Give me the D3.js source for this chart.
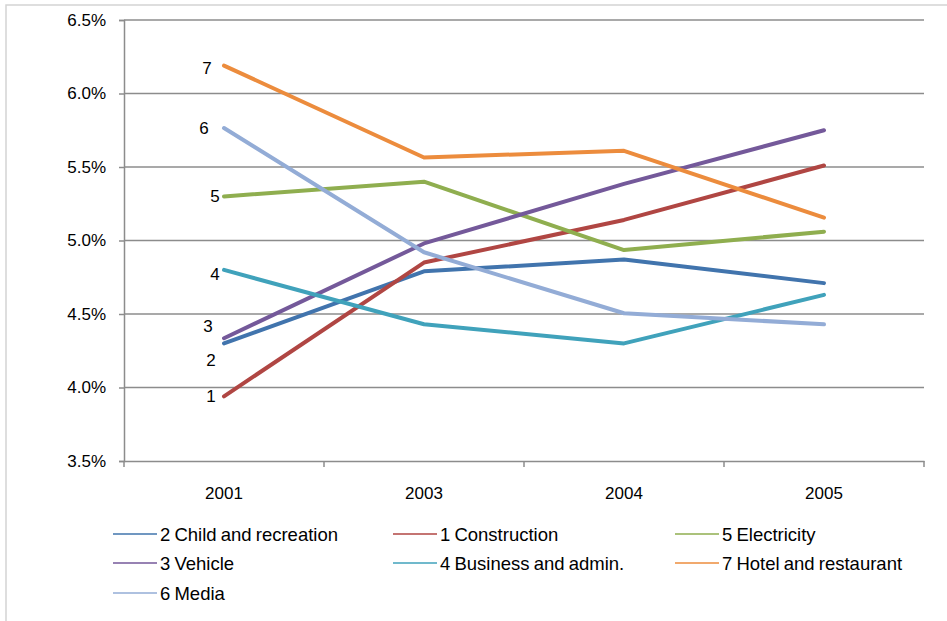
<!DOCTYPE html>
<html>
<head>
<meta charset="utf-8">
<script src="https://cdn.jsdelivr.net/npm/d3@7"></script>
<style>
  html, body { margin: 0; padding: 0; background: #fff; }
  svg { display: block; font-family: "Liberation Sans", Arial, sans-serif; }
</style>
</head>
<body>
<svg id="chart" width="947" height="621"></svg>
<script>
// ---- data ----
const years = ["2001", "2003", "2004", "2005"];
const seriesNames = ["2 Child and recreation", "1 Construction", "5 Electricity", "3 Vehicle", "4 Business and admin.", "7 Hotel and restaurant", "6 Media"];
const seriesCodes = ["2", "1", "5", "3", "4", "7", "6"];
const childRecreation = [4.30, 4.79, 4.87, 4.71];
const construction    = [3.94, 4.85, 5.14, 5.51];
const electricity     = [5.30, 5.40, 4.935, 5.06];
const vehicle         = [4.335, 4.98, 5.385, 5.75];
const businessAdmin   = [4.80, 4.43, 4.30, 4.63];
const hotelRestaurant = [6.19, 5.565, 5.61, 5.155];
const media           = [5.765, 4.92, 4.505, 4.43];
const yTicks = [3.5, 4.0, 4.5, 5.0, 5.5, 6.0, 6.5];

const seriesValues = [childRecreation, construction, electricity, vehicle, businessAdmin, hotelRestaurant, media];
const colors = ["#4174ad", "#b04643", "#8fae4f", "#74599a", "#40a2bb", "#ec8c3d", "#93acd6"];
// label offsets (px) relative to the first point of each series
const labelOffsets = [[-13, 17], [-13, 0], [-9, 0], [-16, -12], [-9, 5], [-17, 3], [-20, 0]];

const svg = d3.select("#chart");

// outer chart border
svg.append("rect").attr("x", 6).attr("y", 5).attr("width", 960).attr("height", 640)
  .attr("fill", "none").attr("stroke", "#d4d4d4").attr("stroke-width", 1.5);

const x = d3.scaleBand().domain(years).range([124, 924]).paddingInner(0).paddingOuter(0);
const y = d3.scaleLinear().domain([3.5, 6.5]).range([461, 20]);
const cx = d => x(d) + x.bandwidth() / 2;

// gridlines
svg.append("g").selectAll("line").data(yTicks.filter(t => t > 3.5)).join("line")
  .attr("x1", 124).attr("x2", 924)
  .attr("y1", d => y(d)).attr("y2", d => y(d))
  .attr("stroke", "#8c8c8c").attr("stroke-width", 1.5);

// y axis
const yAxis = d3.axisLeft(y).tickValues(yTicks).tickSize(5).tickPadding(13)
  .tickFormat(d => d.toFixed(1) + "%");
const gy = svg.append("g").attr("transform", "translate(124,0)").call(yAxis);
gy.select(".domain").attr("stroke", "#8c8c8c").attr("stroke-width", 1.5);
gy.selectAll(".tick line").attr("stroke", "#8c8c8c").attr("stroke-width", 1.5);
gy.selectAll(".tick text").attr("font-size", 17).attr("fill", "#000")
  .attr("font-family", "Liberation Sans, Arial, sans-serif");

// x axis
const xAxis = d3.axisBottom(x).tickSize(0).tickPadding(26);
const gx = svg.append("g").attr("transform", "translate(0,461)").call(xAxis);
gx.select(".domain").attr("stroke", "#8c8c8c").attr("stroke-width", 1.5);
gx.selectAll(".tick text").attr("font-size", 17).attr("fill", "#000")
  .attr("font-family", "Liberation Sans, Arial, sans-serif");
// category boundary tick marks
const boundaries = years.map(d => x(d)).concat([x(years[years.length - 1]) + x.bandwidth()]);
svg.append("g").selectAll("line").data(boundaries).join("line")
  .attr("x1", d => d).attr("x2", d => d).attr("y1", 461).attr("y2", 467)
  .attr("stroke", "#8c8c8c").attr("stroke-width", 1.5);

// lines
const line = d3.line().x((d, i) => cx(years[i])).y(d => y(d));
svg.append("g").selectAll("path").data(seriesValues).join("path")
  .attr("d", d => line(d))
  .attr("fill", "none")
  .attr("stroke", (d, i) => colors[i])
  .attr("stroke-width", 4)
  .attr("stroke-linecap", "round")
  .attr("stroke-linejoin", "round");

// data labels at first point
svg.append("g").selectAll("text").data(seriesValues).join("text")
  .attr("x", (d, i) => cx(years[0]) + labelOffsets[i][0])
  .attr("y", (d, i) => y(d[0]) + labelOffsets[i][1])
  .attr("text-anchor", "middle").attr("dominant-baseline", "central")
  .attr("font-size", 17).attr("fill", "#000")
  .text((d, i) => seriesCodes[i]);

// legend
const legendCols = [113, 393, 675];
const legendRows = [534, 563, 593];
const lg = svg.append("g").selectAll("g").data(seriesNames).join("g")
  .attr("transform", (d, i) => `translate(${legendCols[i % 3]},${legendRows[Math.floor(i / 3)]})`);
lg.append("line").attr("x1", 0).attr("x2", 44).attr("y1", 0).attr("y2", 0)
  .attr("stroke", (d, i) => colors[i]).attr("stroke-width", 1.5);
lg.append("text").attr("x", 47).attr("y", 0).attr("dominant-baseline", "central")
  .attr("font-size", 18.5).attr("fill", "#000").attr("word-spacing", -1)
  .text(d => d);
</script>
</body>
</html>
